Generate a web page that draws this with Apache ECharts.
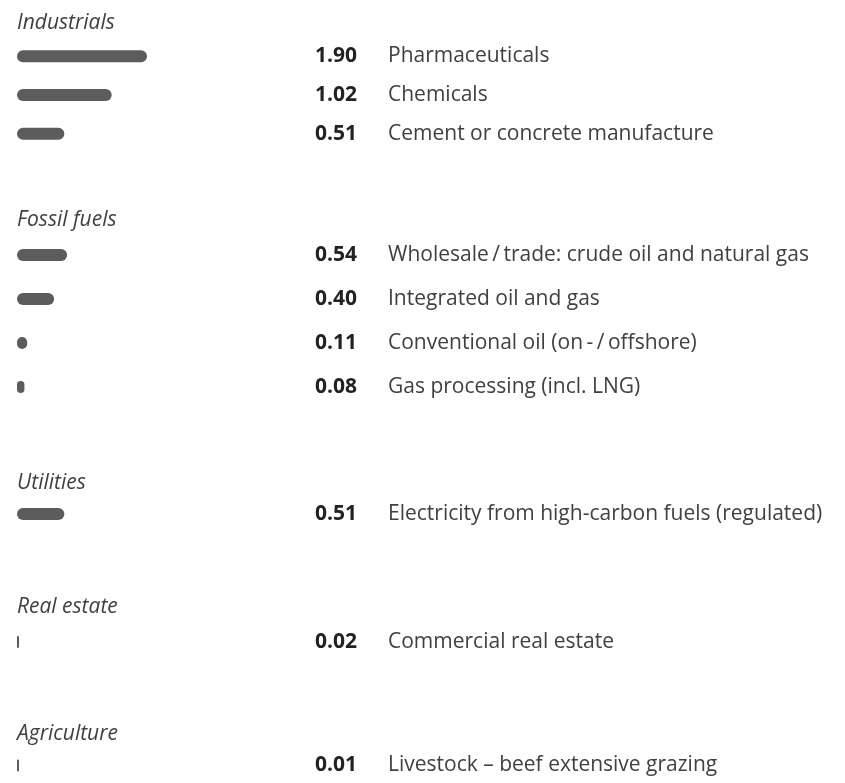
<!DOCTYPE html>
<html>
<head>
<meta charset="utf-8">
<script src="https://cdn.jsdelivr.net/npm/echarts@6/dist/echarts.min.js"></script>
<style>
  html, body { margin: 0; padding: 0; background: #fff; }
  #chart { width: 845px; height: 783px; }
</style>
</head>
<body>
<div id="chart"></div>
<script>
// data
const groupNames = ['Industrials', 'Fossil fuels', 'Utilities', 'Real estate', 'Agriculture'];

const industrialNames = ['Pharmaceuticals', 'Chemicals', 'Cement or concrete manufacture'];
const industrialValues = [1.90, 1.02, 0.51];

const fossilNames = ['Wholesale\u2009/\u2009trade: crude oil and natural gas', 'Integrated oil and gas',
  'Conventional oil (on\u2009-\u2009/\u2009offshore)', 'Gas processing (incl. LNG)'];
const fossilValues = [0.54, 0.40, 0.11, 0.08];

const utilityNames = ['Electricity from high-carbon fuels (regulated)'];
const utilityValues = [0.51];

const realEstateNames = ['Commercial real estate'];
const realEstateValues = [0.02];

const agricultureNames = ['Livestock – beef extensive grazing'];
const agricultureValues = [0.01];

const groupNamesList = [industrialNames, fossilNames, utilityNames, realEstateNames, agricultureNames];
const groupValuesList = [industrialValues, fossilValues, utilityValues, realEstateValues, agricultureValues];

// layout of each block (pixels)
const gridTops = [37, 233, 494, 622, 748];
const gridHeights = [116, 176, 40, 40, 40];
const headingTops = [13, 210, 473, 597, 724];

const FONT = '"Open Sans", "DejaVu Sans", sans-serif';
const BAR_COLOR = '#5c5c5c';

const chart = echarts.init(document.getElementById('chart'));

const grids = [], xAxes = [], yAxes = [], series = [], titles = [];

groupNames.forEach((g, i) => {
  const names = groupNamesList[i];
  const values = groupValuesList[i];

  titles.push({
    text: g,
    left: 17,
    top: headingTops[i],
    padding: 0,
    textStyle: { fontFamily: FONT, fontSize: 21, fontStyle: 'italic', fontWeight: 'normal', color: '#404040' }
  });

  grids.push({ left: 17, width: 130, top: gridTops[i], height: gridHeights[i] });

  xAxes.push({
    gridIndex: i,
    type: 'value',
    min: 0,
    max: 1.4, // longest bar is cut at the edge like the original
    show: false
  });

  yAxes.push({
    gridIndex: i,
    type: 'category',
    data: names,
    inverse: true,
    position: 'right',
    offset: 153,
    axisLine: { show: false },
    axisTick: { show: false },
    axisLabel: {
      margin: 8,
      formatter: (val, idx) => `{v|${values[idx].toFixed(2)}}{n|${val}}`,
      rich: {
        v: { fontFamily: FONT, fontSize: 21, fontWeight: 'bold', color: '#222', width: 56, align: 'right' },
        n: { fontFamily: FONT, fontSize: 21, color: '#404040', padding: [0, 0, 0, 24] }
      }
    }
  });

  series.push({
    type: 'bar',
    xAxisIndex: i,
    yAxisIndex: i,
    data: values,
    barWidth: 12,
    barMinHeight: 2,
    itemStyle: { color: BAR_COLOR, borderRadius: 6 },
    silent: true,
    animation: false
  });
});

chart.setOption({
  backgroundColor: '#fff',
  animation: false,
  title: titles,
  grid: grids,
  xAxis: xAxes,
  yAxis: yAxes,
  series: series
});
</script>
</body>
</html>
